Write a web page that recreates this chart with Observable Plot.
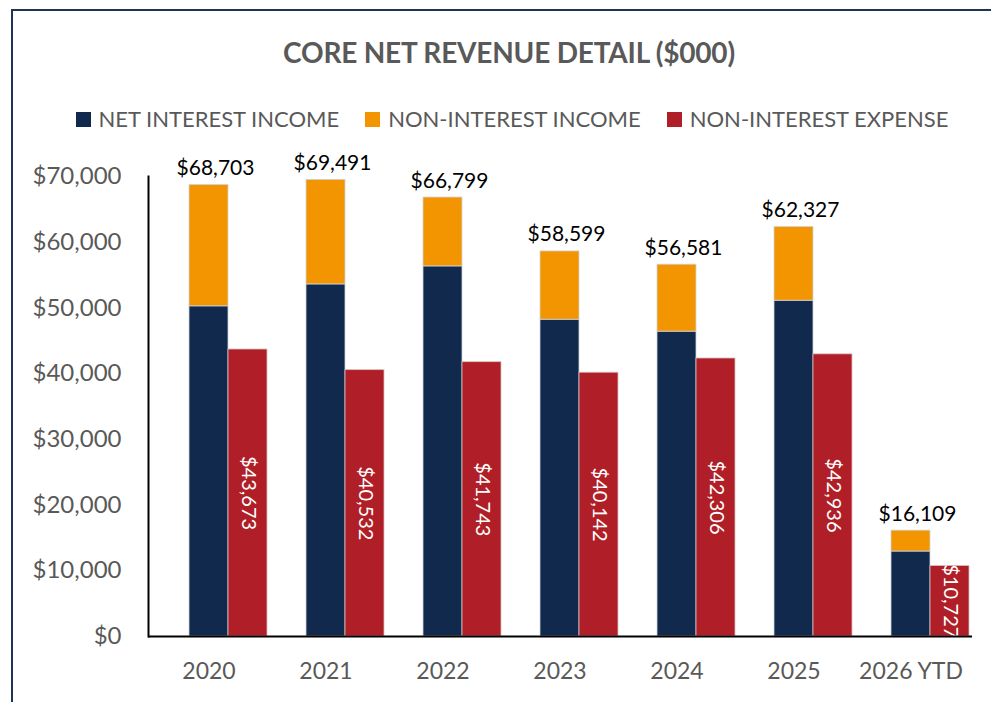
<!DOCTYPE html>
<html>
<head>
<meta charset="utf-8">
<script src="https://cdn.jsdelivr.net/npm/d3@7"></script>
<script src="https://cdn.jsdelivr.net/npm/@observablehq/plot@0.6"></script>
<style>
  html, body { margin: 0; padding: 0; width: 991px; height: 702px; overflow: hidden; background: #fff; font-family: Lato, "Open Sans", sans-serif; }
  body { position: relative; }
  #box { position: absolute; left: 11px; top: 9px; width: 1040px; height: 760px; border: 2.5px solid #1c3557; box-sizing: border-box; }
  #title { position: absolute; left: 0; top: 35px; width: 1018px; text-align: center; font-size: 28px; font-weight: 700; color: #595959; line-height: 34px; letter-spacing: -0.2px; }
  #legend { position: absolute; left: 0; top: 105px; width: 1024px; display: flex; justify-content: center; align-items: center; font-size: 22px; color: #595959; line-height: 28px; }
  .item { display: flex; align-items: center; margin: 0 13px; }
  .sw { width: 15px; height: 15px; margin-right: 8px; }
  #chart { position: absolute; left: 0; top: 140px; }
</style>
</head>
<body>
<div id="box"></div>
<div id="title">CORE NET REVENUE DETAIL ($000)</div>
<div id="legend"></div>
<div id="chart"></div>
<script>
const years = ["2020", "2021", "2022", "2023", "2024", "2025", "2026 YTD"];
const netInterestIncome = [50240, 53580, 56320, 48210, 46390, 51100, 12930];
const nonInterestIncome = [18463, 15911, 10479, 10389, 10191, 11227, 3179];
const nonInterestExpense = [43673, 40532, 41743, 40142, 42306, 42936, 10727];
const seriesNames = ["NET INTEREST INCOME", "NON-INTEREST INCOME", "NON-INTEREST EXPENSE"];
const seriesColors = ["#10294d", "#f29500", "#b01f27"];
const yTicks = [0, 10000, 20000, 30000, 40000, 50000, 60000, 70000];

const fmt = d3.format("$,");

const stackRows = years.flatMap((y, i) => [
  {year: y, series: seriesNames[0], value: netInterestIncome[i]},
  {year: y, series: seriesNames[1], value: nonInterestIncome[i]}
]);
const expenseRows = years.map((y, i) => ({year: y, series: seriesNames[2], value: nonInterestExpense[i]}));
const totals = years.map((y, i) => ({year: y, total: netInterestIncome[i] + nonInterestIncome[i]}));

// legend
const legend = document.getElementById("legend");
seriesNames.forEach((name, i) => {
  const item = document.createElement("div");
  item.className = "item";
  const sw = document.createElement("span");
  sw.className = "sw";
  sw.style.background = seriesColors[i];
  const label = document.createElement("span");
  label.textContent = name;
  item.appendChild(sw);
  item.appendChild(label);
  legend.appendChild(item);
});

const chart = Plot.plot({
  width: 991,
  height: 562,
  marginTop: 36,
  marginBottom: 66,
  marginLeft: 148,
  marginRight: 19,
  style: {fontFamily: "Lato, sans-serif", background: "transparent", overflow: "visible"},
  x: {domain: years, range: [147, 1011], paddingInner: 0.337, paddingOuter: 0.345, axis: null},
  y: {domain: [0, 70000], axis: null},
  color: {domain: seriesNames, range: seriesColors},
  marks: [
    Plot.axisY({ticks: yTicks, tickFormat: fmt, tickSize: 0, tickPadding: 27, fontSize: 24, color: "#595959", label: null}),
    Plot.axisX({tickSize: 0, tickPadding: 26, fontSize: 23, color: "#595959", label: null, dx: -19.5}),
    Plot.barY(stackRows, {x: "year", y: "value", fill: "series", insetRight: 39, stroke: "#d0d4da", strokeWidth: 0.8}),
    Plot.barY(expenseRows, {x: "year", y: "value", fill: "series", insetLeft: 39, stroke: "#d8c0c0", strokeWidth: 0.8}),
    Plot.text(totals, {x: "year", y: "total", text: d => fmt(d.total), dx: -13, dy: -10, lineAnchor: "bottom", fontSize: 21, fill: "#000"}),
    Plot.text(expenseRows, {x: "year", y: d => d.value / 2, text: d => fmt(d.value), dx: 19.5, rotate: 90, textAnchor: "middle", fontSize: 20, fill: "#fff"}),
    Plot.frame({anchor: "left", stroke: "#000", strokeWidth: 2}),
    Plot.ruleY([0], {stroke: "#000", strokeWidth: 2})
  ]
});
document.getElementById("chart").appendChild(chart);
</script>
</body>
</html>
